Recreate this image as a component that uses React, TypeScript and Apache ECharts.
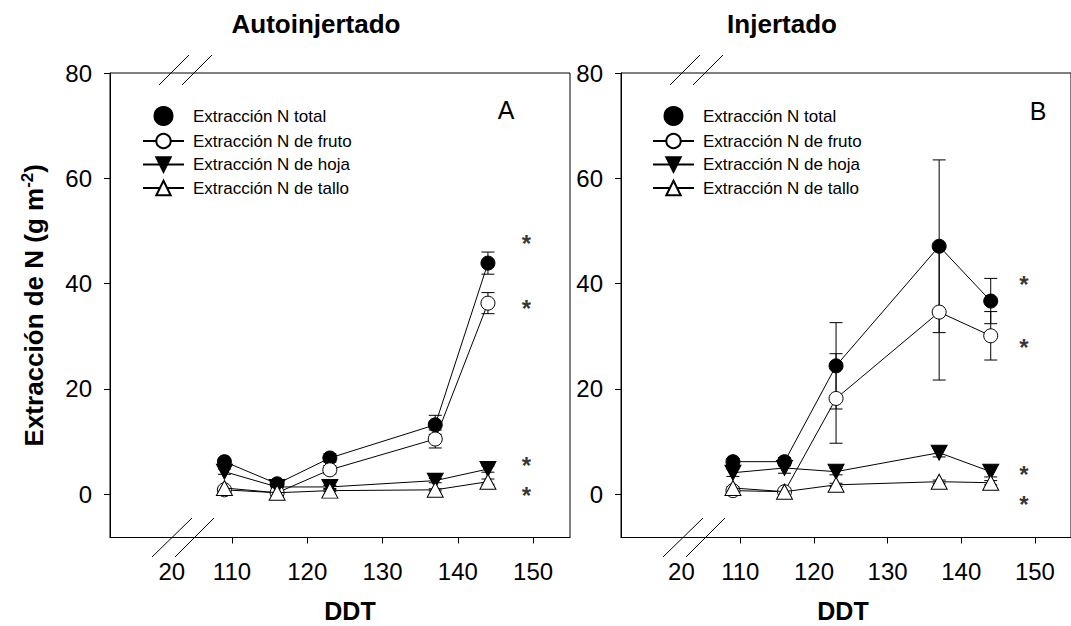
import React, { useEffect, useRef } from 'react';
import * as echarts from 'echarts';

// ---------- data ----------
const DDT = [109, 116, 123, 137, 144];
const X_TICKS = [110, 120, 130, 140, 150];
const X_BREAK_POS = 102; // axis position of the broken-axis label
const X_BREAK_LABEL = '20';
const Y_TICKS = [0, 20, 40, 60, 80];

const SERIES_NAMES = [
  'Extracción N total',
  'Extracción N de fruto',
  'Extracción N de hoja',
  'Extracción N de tallo',
];

// Panel A – Autoinjertado
const A_TOTAL = [6.2, 2.0, 6.9, 13.2, 43.9];
const A_TOTAL_ERR = [0.6, 0.4, 0.8, 1.8, 2.1];
const A_FRUTO = [0.85, 0.3, 4.65, 10.5, 36.3];
const A_FRUTO_ERR = [0.3, 0.1, 0.8, 1.7, 2.0];
const A_HOJA = [4.3, 1.4, 1.4, 2.6, 4.8];
const A_HOJA_ERR = [0.5, 0.2, 0.3, 0.4, 0.6];
const A_TALLO = [1.2, 0.3, 0.7, 0.85, 2.4];
const A_TALLO_ERR = [0.2, 0.1, 0.2, 0.2, 0.5];
const A_SIG_X = 149.1;
const A_SIG_Y = [48.5, 36.3, 6.5, 0.7];

// Panel B – Injertado
const B_TOTAL = [6.2, 6.2, 24.4, 47.1, 36.7];
const B_TOTAL_ERR = [0.6, 0.8, 8.2, 16.4, 4.3];
const B_FRUTO = [0.7, 0.5, 18.2, 34.6, 30.1];
const B_FRUTO_ERR = [0.3, 0.2, 8.5, 12.9, 4.6];
const B_HOJA = [4.1, 5.0, 4.3, 7.9, 4.3];
const B_HOJA_ERR = [0.7, 1.0, 0.6, 0.8, 1.0];
const B_TALLO = [1.2, 0.5, 1.8, 2.4, 2.2];
const B_TALLO_ERR = [0.2, 0.1, 0.3, 0.3, 0.4];
const B_SIG_X = 148.5;
const B_SIG_Y = [40.7, 28.8, 4.8, -1.0];

const PANEL_TITLES = ['Autoinjertado', 'Injertado'];
const PANEL_LETTERS = ['A', 'B'];
const X_TITLE = 'DDT';
const Y_TITLE = 'Extracción de N (g m{sup|-2})';

// ---------- styles ----------
const FONT = '"Liberation Sans", Arial, Helvetica, sans-serif';
const GRID_LEFT = [110, 621];
const GRID_TOP = 73;
const GRID_W = 460;
const GRID_H = 464.5;
const X_MIN = 93.8;
const X_MAX = 154.9;
const Y_MIN = -8.2;
const Y_MAX = 80;

const MARKERS = [
  { symbol: 'circle', size: 14, rotate: 0, fill: '#000' },
  { symbol: 'circle', size: 14, rotate: 0, fill: '#fff' },
  { symbol: 'triangle', size: [16, 15], rotate: 180, fill: '#000' },
  { symbol: 'triangle', size: [16, 15], rotate: 0, fill: '#fff' },
];

function errSeries(gi: number, vals: number[], errs: number[]) {
  return {
    type: 'custom',
    xAxisIndex: gi,
    yAxisIndex: gi,
    z: 1,
    silent: true,
    data: DDT.map((x, i) => [x, vals[i], errs[i]]),
    encode: { x: 0, y: 1 },
    renderItem: (_p: any, api: any) => {
      const x = api.value(0);
      const y = api.value(1);
      const e = api.value(2);
      const t = api.coord([x, y + e]);
      const b = api.coord([x, y - e]);
      const hw = 6.5;
      const st = { stroke: '#000', lineWidth: 1 };
      return {
        type: 'group',
        children: [
          { type: 'line', shape: { x1: t[0], y1: t[1], x2: b[0], y2: b[1] }, style: st },
          { type: 'line', shape: { x1: t[0] - hw, y1: t[1], x2: t[0] + hw, y2: t[1] }, style: st },
          { type: 'line', shape: { x1: b[0] - hw, y1: b[1], x2: b[0] + hw, y2: b[1] }, style: st },
        ],
      };
    },
  };
}

function lineSeries(gi: number, idx: number, vals: number[]) {
  const m = MARKERS[idx];
  return {
    type: 'line',
    name: SERIES_NAMES[idx],
    xAxisIndex: gi,
    yAxisIndex: gi,
    z: 3 + idx,
    data: DDT.map((x, i) => [x, vals[i]]),
    symbol: m.symbol,
    symbolSize: m.size,
    symbolRotate: m.rotate,
    showAllSymbol: true,
    lineStyle: { color: '#000', width: 1 },
    itemStyle: { color: m.fill, borderColor: '#000', borderWidth: 1 },
    emphasis: { disabled: true },
  };
}

function sigSeries(gi: number, x: number, ys: number[]) {
  return {
    type: 'scatter',
    xAxisIndex: gi,
    yAxisIndex: gi,
    z: 10,
    silent: true,
    symbolSize: 1,
    itemStyle: { color: 'rgba(0,0,0,0)' },
    data: ys.map((y) => [x, y]),
    label: {
      show: true,
      position: 'inside',
      formatter: '*',
      fontSize: 24,
      fontWeight: 'bold',
      fontFamily: FONT,
      color: '#000',
      offset: [0, 5],
    },
  };
}

function breakLines(dx: number) {
  const st = { stroke: '#000', lineWidth: 1 };
  const segs = [
    [159, 85, 189, 55],
    [182, 85, 212, 55],
    [152, 557, 192, 518],
    [175, 557, 214, 518],
  ];
  return segs.map((s) => ({
    type: 'line',
    silent: true,
    shape: { x1: s[0] + dx, y1: s[1], x2: s[2] + dx, y2: s[3] },
    style: st,
  }));
}

export default function App() {
  const ref = useRef<HTMLDivElement>(null);

  useEffect(() => {
    if (!ref.current) return;
    const chart = echarts.init(ref.current, undefined, { renderer: 'svg' });

    const grids = GRID_LEFT.map((left) => ({
      left,
      top: GRID_TOP,
      width: GRID_W,
      height: GRID_H,
      show: true,
      borderColor: '#000',
      borderWidth: 1,
      backgroundColor: 'transparent',
      containLabel: false,
    }));

    const xAxes = GRID_LEFT.map((_, gi) => ({
      type: 'value',
      gridIndex: gi,
      min: X_MIN,
      max: X_MAX,
      axisLine: { show: true, onZero: false, lineStyle: { color: '#000', width: 1 } },
      axisTick: { show: true, inside: false, length: 6, customValues: X_TICKS, lineStyle: { color: '#000' } },
      axisLabel: {
        show: true,
        customValues: [X_BREAK_POS, ...X_TICKS],
        formatter: (v: number) => (Math.abs(v - X_BREAK_POS) < 1e-6 ? X_BREAK_LABEL : String(v)),
        fontSize: 24,
        fontFamily: FONT,
        color: '#000',
        margin: 22,
        showMinLabel: true,
        showMaxLabel: true,
      },
      splitLine: { show: false },
    }));

    const yAxes = GRID_LEFT.map((_, gi) => ({
      type: 'value',
      gridIndex: gi,
      min: Y_MIN,
      max: Y_MAX,
      axisLine: { show: true, onZero: false, lineStyle: { color: '#000', width: 1 } },
      axisTick: { show: true, inside: false, length: 6, customValues: Y_TICKS, lineStyle: { color: '#000' } },
      axisLabel: {
        show: true,
        customValues: Y_TICKS,
        fontSize: 24,
        fontFamily: FONT,
        color: '#000',
        margin: 18,
      },
      splitLine: { show: false },
      name: gi === 0 ? Y_TITLE : '',
      nameLocation: 'middle',
      nameGap: 62,
      nameTextStyle: {
        fontSize: 26,
        fontWeight: 'bold',
        fontFamily: FONT,
        color: '#000',
        rich: {
          sup: { fontSize: 17, fontWeight: 'bold', fontFamily: FONT, color: '#000', padding: [0, 0, 12, 0] },
        },
      },
    }));

    const legendData = [{ name: SERIES_NAMES[0], icon: 'circle' }, SERIES_NAMES[1], SERIES_NAMES[2], SERIES_NAMES[3]];
    const legends = [142, 652].map((left) => ({
      left,
      top: 106,
      orient: 'vertical',
      itemWidth: 41,
      itemHeight: 18,
      itemGap: 6.5,
      padding: 0,
      selectedMode: false,
      data: legendData,
      textStyle: { fontSize: 17, fontFamily: FONT, color: '#000', padding: [0, 0, 0, 4] },
    }));

    const panels = [
      { vals: [A_TOTAL, A_FRUTO, A_HOJA, A_TALLO], errs: [A_TOTAL_ERR, A_FRUTO_ERR, A_HOJA_ERR, A_TALLO_ERR], sx: A_SIG_X, sy: A_SIG_Y },
      { vals: [B_TOTAL, B_FRUTO, B_HOJA, B_TALLO], errs: [B_TOTAL_ERR, B_FRUTO_ERR, B_HOJA_ERR, B_TALLO_ERR], sx: B_SIG_X, sy: B_SIG_Y },
    ];

    const series: any[] = [];
    panels.forEach((p, gi) => {
      p.vals.forEach((v, idx) => series.push(errSeries(gi, v, p.errs[idx])));
      p.vals.forEach((v, idx) => series.push(lineSeries(gi, idx, v)));
      series.push(sigSeries(gi, p.sx, p.sy));
    });

    const graphic: any[] = [
      ...breakLines(0),
      ...breakLines(511),
      {
        type: 'text', x: 316, y: 24, silent: true,
        style: { text: PANEL_TITLES[0], fontSize: 26, fontWeight: 'bold', fontFamily: FONT, fill: '#000', align: 'center', verticalAlign: 'middle' },
      },
      {
        type: 'text', x: 782, y: 24, silent: true,
        style: { text: PANEL_TITLES[1], fontSize: 26, fontWeight: 'bold', fontFamily: FONT, fill: '#000', align: 'center', verticalAlign: 'middle' },
      },
      {
        type: 'text', x: 506, y: 110, silent: true,
        style: { text: PANEL_LETTERS[0], fontSize: 25, fontFamily: FONT, fill: '#000', align: 'center', verticalAlign: 'middle' },
      },
      {
        type: 'text', x: 1038, y: 111, silent: true,
        style: { text: PANEL_LETTERS[1], fontSize: 25, fontFamily: FONT, fill: '#000', align: 'center', verticalAlign: 'middle' },
      },
      {
        type: 'text', x: 350, y: 611, silent: true,
        style: { text: X_TITLE, fontSize: 25, fontWeight: 'bold', fontFamily: FONT, fill: '#000', align: 'center', verticalAlign: 'middle' },
      },
      {
        type: 'text', x: 843, y: 611, silent: true,
        style: { text: X_TITLE, fontSize: 25, fontWeight: 'bold', fontFamily: FONT, fill: '#000', align: 'center', verticalAlign: 'middle' },
      },
    ];

    chart.setOption({
      animation: false,
      backgroundColor: '#fff',
      textStyle: { fontFamily: FONT },
      grid: grids,
      xAxis: xAxes,
      yAxis: yAxes,
      legend: legends,
      series,
      graphic,
    });

    return () => chart.dispose();
  }, []);

  return (
    <div
      ref={ref}
      style={{ position: 'absolute', left: 0, top: 0, width: 1071, height: 626, background: '#fff' }}
    />
  );
}
